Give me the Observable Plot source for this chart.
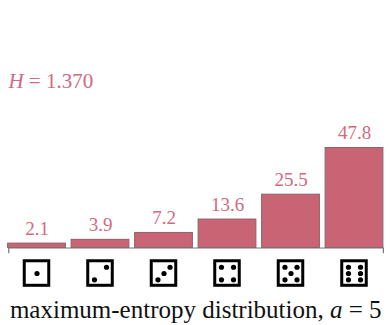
<!DOCTYPE html>
<html><head><meta charset="utf-8">
<script src="https://cdn.jsdelivr.net/npm/d3@7"></script>
<script src="https://cdn.jsdelivr.net/npm/@observablehq/plot@0.6"></script>
<style>html,body{margin:0;padding:0;background:#fff}svg{display:block}</style>
</head><body><div id="chart"></div>
<script>
const faces = [1,2,3,4,5,6];
const percents = [2.1,3.9,7.2,13.6,25.5,47.8];
const labels = ["2.1","3.9","7.2","13.6","25.5","47.8"];
const entropyLabel = "H = 1.370";
const captionLabel = "maximum-entropy distribution, a = 5";
// pip layout of each face, in units of one pip step
const pipLayouts = [
  [[0,0]],
  [[-1,1],[1,-1]],
  [[-1,1],[0,0],[1,-1]],
  [[-1,-1],[1,-1],[-1,1],[1,1]],
  [[-1,-1],[1,-1],[0,0],[-1,1],[1,1]],
  [[-1,-1],[1,-1],[-1,0],[1,0],[-1,1],[1,1]]
];
const dieCentre = -12.2, dieHalfX = 0.193, dieHalfY = 5.86, pipX = 0.095, pipY = 3.0;
const barHalf = 0.455;
const bars = faces.map((f,i)=>({f,v:percents[i],label:labels[i]}));
const pips = faces.flatMap((f,i)=>pipLayouts[i].map(([a,b])=>({x:f+a*pipX,y:dieCentre-b*pipY})));
const red = "#c96474", textRed = "#d2697f";
const serif = "'Liberation Serif', serif";
const plot = Plot.plot({
  width:390,height:325,margin:0,
  style:{background:"#fff",fontFamily:serif},
  x:{domain:[1,6],range:[36.5,354],axis:null},
  y:{domain:[0,47.8],range:[247.5,147.5],axis:null},
  marks:[
    Plot.rect(bars,{x1:d=>d.f-barHalf,x2:d=>d.f+barHalf,y1:0,y2:"v",fill:red,stroke:"#8d6168",strokeWidth:1}),
    Plot.ruleY([0],{x1:0.555,x2:6.455,stroke:"#777",strokeWidth:1.2}),
    Plot.ruleX([0.555,6.455],{y1:0,y2:-2.7,stroke:"#777",strokeWidth:1.2}),
    Plot.text(bars,{x:"f",y:"v",text:"label",dy:-15,fill:textRed,fontSize:19}),
    Plot.rect(faces,{x1:f=>f-dieHalfX,x2:f=>f+dieHalfX,y1:dieCentre-dieHalfY,y2:dieCentre+dieHalfY,fill:"#fff",stroke:"#000",strokeWidth:3}),
    Plot.dot(pips,{x:"x",y:"y",r:2.6,fill:"#000"}),
    Plot.text([entropyLabel],{x:0.55,y:79.5,text:d=>d,textAnchor:"start",fill:textRed,fontSize:21,className:"entropy"}),
    Plot.text([captionLabel],{x:3.5,y:-29.5,text:d=>d,fill:"#111",fontSize:25,className:"caption"})
  ]
});
d3.select(plot).selectAll(".entropy text").html('<tspan font-style="italic">H</tspan> = 1.370');
d3.select(plot).selectAll(".caption text").html('maximum-entropy distribution, <tspan font-style="italic">a</tspan> = 5');
document.getElementById("chart").append(plot);
</script></body></html>
